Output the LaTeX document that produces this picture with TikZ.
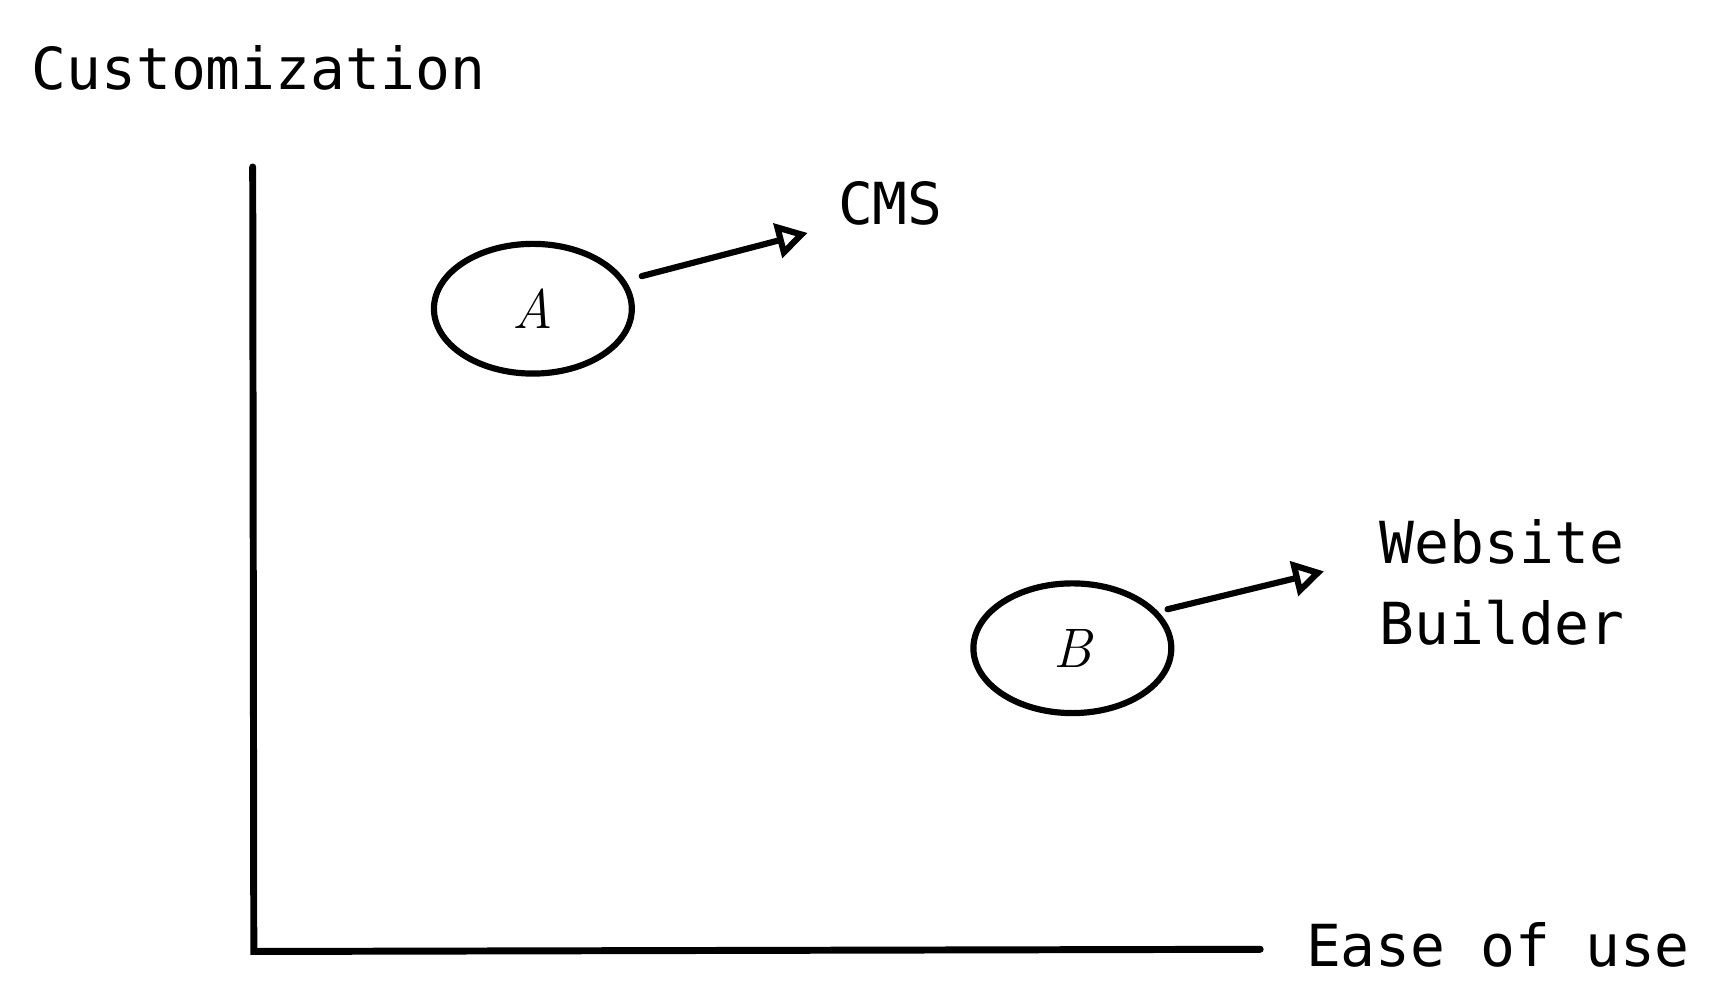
\documentclass[tikz,border=0pt]{standalone}
\usepackage{fontspec}
\setmonofont{DejaVu Sans Mono}
\usetikzlibrary{arrows.meta, shapes.geometric}
\begin{document}
\begin{tikzpicture}[x=0.01cm, y=-0.01cm,
  every node/.style={font=\ttfamily\fontsize{15}{21}\selectfont, inner sep=0pt},
  axis/.style={line width=1.8pt, line cap=round},
  blob/.style={draw, ellipse, line width=1.6pt, minimum width=1.8cm, minimum height=1.18cm, font=\itshape\Large},
  pointer/.style={line width=1.6pt, line cap=round, -{Triangle[open, length=8pt, width=9pt, line width=1.6pt]}}]
\useasboundingbox (0,0) rectangle (1560,913);

% Achsen
\coordinate (top) at (230,152);
\coordinate (origin) at (231,866);
\coordinate (right) at (1147,864);
\draw[axis] (top) -- (origin) -- (right);
\node[anchor=west] (yl) at (28,62) {Customization};
\node[anchor=west] (xl) at (1188,860) {Ease of use};

% Punkte
\node[blob] (a) at (485,281) {A};
\node[blob] (b) at (976,590) {B};

% Beschriftungen
\node[anchor=west] (cms) at (762,185) {CMS};
\node[anchor=west, align=left] (wb) at (1255,530) {Website\\Builder};
\coordinate (ta) at (735,212);
\coordinate (tb) at (1205,520);
\draw[pointer] ([xshift=5]a.20) -- (ta);
\draw[pointer] ([xshift=3]b.25) -- (tb);

\end{tikzpicture}
\end{document}
